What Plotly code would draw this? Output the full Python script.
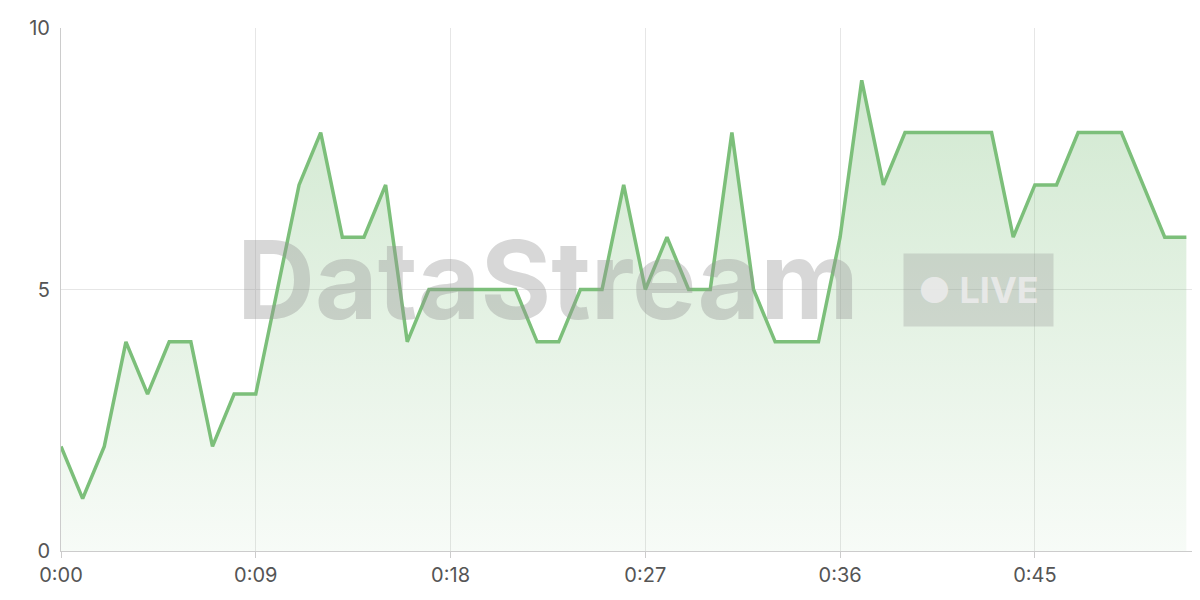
import plotly.graph_objects as go

seconds = list(range(53))
values = [2,1,2,4,3,4,4,2,3,3,5,7,8,6,6,7,4,5,5,5,5,5,4,4,5,5,7,5,6,5,5,8,5,4,4,4,6,9,7,8,8,8,8,8,6,7,7,8,8,8,7,6,6]
tick_vals = [0, 9, 18, 27, 36, 45]
tick_text = ["0:00", "0:09", "0:18", "0:27", "0:36", "0:45"]

fig = go.Figure()
fig.add_trace(go.Scatter(
    x=seconds, y=values, mode="lines",
    line=dict(color="#7cbf7a", width=3.5),
    fill="tozeroy",
    fillgradient=dict(type="vertical",
                      colorscale=[[0, "rgba(124,191,122,0.06)"], [1, "rgba(124,191,122,0.35)"]]),
    hoverinfo="skip",
))
fig.add_annotation(xref="paper", yref="paper", x=0.425, y=0.52, text="<b>DataStream</b>",
                   showarrow=False, font=dict(family="Inter, sans-serif", size=108, color="rgba(150,150,150,0.38)"),
                   xanchor="center", yanchor="middle")
fig.add_annotation(xref="paper", yref="paper", x=0.80, y=0.50, text="<b>● LIVE</b>",
                   showarrow=False, font=dict(family="Inter, sans-serif", size=36, color="rgba(235,235,235,0.9)"),
                   bgcolor="rgba(150,150,150,0.3)", borderpad=14, xanchor="center", yanchor="middle")
fig.update_layout(
    width=1200, height=600, margin=dict(l=53, r=0, t=20, b=57, autoexpand=False),
    plot_bgcolor="white", paper_bgcolor="white", showlegend=False,
    font=dict(family="Inter, sans-serif", size=20, color="#555"),
)
fig.update_xaxes(range=[0, 53], tickvals=tick_vals, ticktext=tick_text, showgrid=True, automargin=False,
                 gridcolor="#e6e6e6", zeroline=False, showline=True, linecolor="#ccc",
                 ticks="outside", ticklen=6, tickcolor="#ccc")
fig.update_yaxes(range=[0, 10], tickvals=[0, 5, 10], showgrid=True, gridcolor="#e6e6e6", automargin=False,
                 zeroline=False, showline=True, linecolor="#ccc", ticks="", ticklabelstandoff=6)
fig.write_html("out.html")
